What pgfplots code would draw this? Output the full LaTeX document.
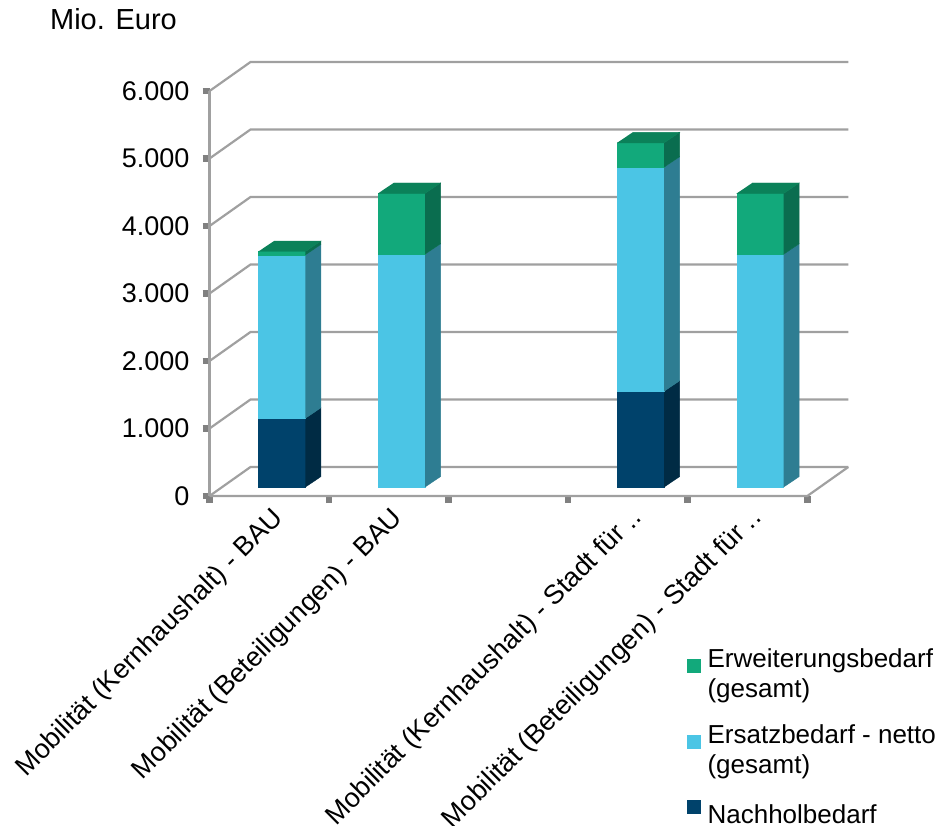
\documentclass[border=0pt]{standalone}
\usepackage{pgfplots}
\pgfplotsset{compat=1.18}
\usepackage{pgfplotstable}
\usepackage{fontspec}
\setmainfont{Liberation Sans}

% face colours: front / side / top
\definecolor{nachF}{HTML}{00426B}
\definecolor{nachS}{HTML}{002B44}
\definecolor{ersF}{HTML}{4BC5E5}
\definecolor{ersS}{HTML}{2E7D92}
\definecolor{erwF}{HTML}{12A97B}
\definecolor{erwS}{HTML}{0A6D4F}
\definecolor{erwT}{HTML}{0B8159}
\definecolor{gridgray}{HTML}{A0A0A0}
\definecolor{tickgray}{HTML}{808080}

\newcommand\chartfont{\fontsize{13.5}{15.3}\selectfont}
\newcommand\legendfont{\fontsize{13}{15}\selectfont}

% Mio. Euro per category and type of need
\pgfplotstableread{
pos nach ersatz erw
0.5 1020 2420 50
1.5 0    3450 900
3.5 1420 3320 360
4.5 0    3450 900
}\bedarf

% pseudo-3D geometry (x in category units, y in Mio. Euro)
\def\dx{0.343}   % depth of the floor
\def\dy{430}
\def\fx{0.106}   % offset of the bar front from the floor front
\def\fy{133}
\def\bw{0.393}   % bar width
\def\sx{0.13}    % bar depth
\def\sy{155}
\def\xback{5.343}

% one stacked segment: front face and side face
\newcommand\segment[6]{%
  \pgfmathsetmacro\sxr{#2+\sx}%
  \pgfmathsetmacro\sylo{#3+\sy}%
  \pgfmathsetmacro\syhi{#4+\sy}%
  \edef\tmp{%
    \noexpand\addplot[forget plot, fill=#5, draw=#5, line width=0.2pt]
      coordinates {(#1,#3) (#2,#3) (#2,#4) (#1,#4)};
    \noexpand\addplot[forget plot, fill=#6, draw=#6, line width=0.2pt]
      coordinates {(#2,#3) (\sxr,\sylo) (\sxr,\syhi) (#2,#4)};
  }\tmp
}
% top face of a bar
\newcommand\topface[4]{%
  \pgfmathsetmacro\txl{#1+\sx}%
  \pgfmathsetmacro\txr{#2+\sx}%
  \pgfmathsetmacro\tyt{#3+\sy}%
  \edef\tmp{%
    \noexpand\addplot[forget plot, fill=#4, draw=#4, line width=0.2pt]
      coordinates {(#1,#3) (#2,#3) (\txr,\tyt) (\txl,\tyt)};
  }\tmp
}

\begin{document}
\begin{tikzpicture}
\path[use as bounding box] (0,0) rectangle (470.5pt,-412.5pt);
\begin{axis}[
  at={(104.75pt,-248pt)}, anchor=south west,
  scale only axis, width=319.4pt, height=217pt,
  xmin=0, xmax=\xback, ymin=0, ymax=6430,
  clip=false,
  axis line style={draw=none},
  tick align=outside, tick pos=left,
  major tick length=3.5pt,
  every tick/.style={tickgray, line width=3.3pt},
  xtick={0,...,5}, xticklabels={},
  extra x ticks={0.5,1.5,3.5,4.5},
  extra x tick labels={Mobilität (Kernhaushalt) - BAU,
    Mobilität (Beteiligungen) - BAU,
    Mobilität (Kernhaushalt) - Stadt für ..,
    Mobilität (Beteiligungen) - Stadt für ..},
  extra x tick style={major tick length=0pt},
  xticklabel style={xshift=0.5pt, yshift=-4.5pt, rotate=45,
    anchor=north east, inner sep=0pt, font=\chartfont},
  ytick={0,1000,...,6000},
  scaled y ticks=false,
  yticklabel style={font=\chartfont, xshift=-3pt,
    /pgf/number format/.cd, 1000 sep={.}, assume math mode=true},
  legend style={at={(axis description cs:0.747,-0.350)}, anchor=north west,
    draw=none, fill=none, font=\legendfont, inner sep=0pt,
    nodes={inner sep=0pt}, cells={anchor=west, align=left},
    row sep=12pt, column sep=3.25pt},
]
% side wall, back wall and floor
\foreach \v in {0,1000,...,6000}{%
  \pgfmathsetmacro\vb{\v+\dy}%
  \edef\tmp{\noexpand\addplot[forget plot, gridgray, line width=1.1pt]
    coordinates {(0,\v) (\dx,\vb) (\xback,\vb)};}\tmp
}
\addplot[forget plot, gridgray, line width=1.1pt] coordinates {(0,0) (0,6000)};
\addplot[forget plot, gridgray, line width=1.1pt] coordinates {(0,0) (5,0) (\xback,\dy)};

% stacked bars
\foreach \r in {0,1,2,3}{%
  \pgfplotstablegetelem{\r}{pos}\of\bedarf \let\p\pgfplotsretval
  \pgfplotstablegetelem{\r}{nach}\of\bedarf \let\va\pgfplotsretval
  \pgfplotstablegetelem{\r}{ersatz}\of\bedarf \let\vb\pgfplotsretval
  \pgfplotstablegetelem{\r}{erw}\of\bedarf \let\vc\pgfplotsretval
  \pgfmathsetmacro\xl{\p-\bw/2+\fx}%
  \pgfmathsetmacro\xr{\p+\bw/2+\fx}%
  \pgfmathsetmacro\ya{\fy}%
  \pgfmathsetmacro\yb{\ya+\va}%
  \pgfmathsetmacro\yc{\yb+\vb}%
  \pgfmathsetmacro\yd{\yc+\vc}%
  \ifdim\va pt>0pt \segment{\xl}{\xr}{\ya}{\yb}{nachF}{nachS}\fi
  \ifdim\vb pt>0pt \segment{\xl}{\xr}{\yb}{\yc}{ersF}{ersS}\fi
  \ifdim\vc pt>0pt \segment{\xl}{\xr}{\yc}{\yd}{erwF}{erwS}\fi
  \topface{\xl}{\xr}{\yd}{erwT}%
}

% legend keys
\addlegendimage{legend image code/.code={\fill[erwF] (0pt,0.75pt) rectangle (6.6pt,7.35pt);}}
\addlegendentry{Erweiterungsbedarf\\(gesamt)}
\addlegendimage{legend image code/.code={\fill[ersF] (0pt,0.75pt) rectangle (6.6pt,7.35pt);}}
\addlegendentry{Ersatzbedarf - netto\\(gesamt)}
\addlegendimage{legend image code/.code={\fill[nachF] (0pt,0.75pt) rectangle (6.6pt,7.35pt);}}
\addlegendentry{Nachholbedarf}

\node[anchor=base east, font=\fontsize{14.5}{17}\selectfont] at (axis description cs:-0.04,1.074) {Mio. Euro};
\end{axis}
\end{tikzpicture}
\end{document}
